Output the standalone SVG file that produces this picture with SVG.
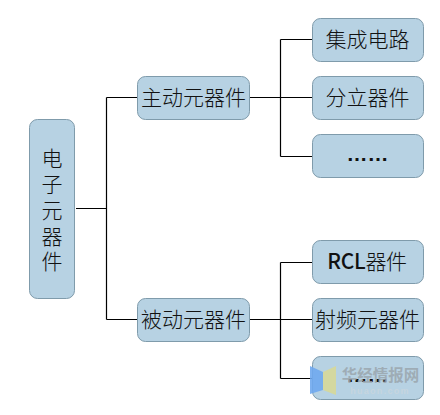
<svg xmlns="http://www.w3.org/2000/svg" width="440" height="415" viewBox="0 0 440 415">
<style>
.box{fill:#b7d2e3;stroke:#7f9bab;stroke-width:1}
.t{font-family:"Noto Sans CJK SC","Liberation Sans",sans-serif;font-size:21px;font-weight:300;fill:#111;text-anchor:middle}
.d{font-family:"Liberation Sans",sans-serif;font-weight:700}
.c{fill:none;stroke:#000;stroke-width:1.2}
.wm{font-family:"Noto Sans CJK SC","Liberation Sans",sans-serif;fill:#9aa5ad;fill-opacity:.85;font-weight:700;text-anchor:middle}
</style>
<rect width="440" height="415" fill="#fff"/>
<g id="connectors">
<path class="c" d="M76 208.500H106.500M106.500 97.500V319.500M106.500 97.500H137M106.500 319.500H137"/>
<path class="c" d="M250 97.500H312M280.500 39.500V156.500M280.500 39.500H312M280.500 156.500H312"/>
<path class="c" d="M250 319.500H312M280.500 262.500V378.500M280.500 262.500H312M280.500 378.500H312"/>
</g>
<g id="root"><rect class="box" x="29.500" y="119.500" width="45" height="179" rx="8"/>
<text class="t"><tspan x="52" y="166">电</tspan><tspan x="52" y="192">子</tspan><tspan x="52" y="218">元</tspan><tspan x="52" y="244">器</tspan><tspan x="52" y="269">件</tspan></text></g>
<g id="active"><rect class="box" x="137.500" y="76.500" width="112" height="43" rx="8"/><text class="t" x="193.500" y="105">主动元器件</text></g>
<g id="passive"><rect class="box" x="137.500" y="298.500" width="112" height="43" rx="8"/><text class="t" x="193.500" y="327">被动元器件</text></g>
<g id="ic"><rect class="box" x="312.500" y="18.500" width="111" height="43" rx="8"/><text class="t" x="367.500" y="47">集成电路</text></g>
<g id="discrete"><rect class="box" x="312.500" y="76.500" width="111" height="43" rx="8"/><text class="t" x="367.500" y="105">分立器件</text></g>
<g id="more1"><rect class="box" x="312.500" y="134.500" width="111" height="43" rx="8"/><text class="t d" x="367.500" y="161">……</text></g>
<g id="rcl"><rect class="box" x="312.500" y="240.500" width="111" height="43" rx="8"/><text class="t" x="367" y="269" style="letter-spacing:-.3px"><tspan style="font-weight:500">RCL</tspan>器件</text></g>
<g id="rf"><rect class="box" x="312.500" y="298.500" width="111" height="43" rx="8"/><text class="t" x="367.500" y="327">射频元器件</text></g>
<g id="more2"><rect class="box" x="312.500" y="356.500" width="111" height="43" rx="8"/><text class="t d" x="367.500" y="382">……</text></g>
<g id="watermark">
<polygon points="310,366 323,372 323,390 310,394" fill="#6fa9ee" fill-opacity=".9"/>
<polygon points="323,372 336,366 336,395 323,390" fill="#d5d89c" fill-opacity=".95"/>
<text class="wm" x="380.500" y="381" font-size="15.500">华经情报网</text>
<text class="wm" x="380" y="394" font-size="9" style="letter-spacing:1.300px;fill:#c9d6de;font-family:'Liberation Sans',sans-serif">huaon.com</text>
</g>
</svg>
